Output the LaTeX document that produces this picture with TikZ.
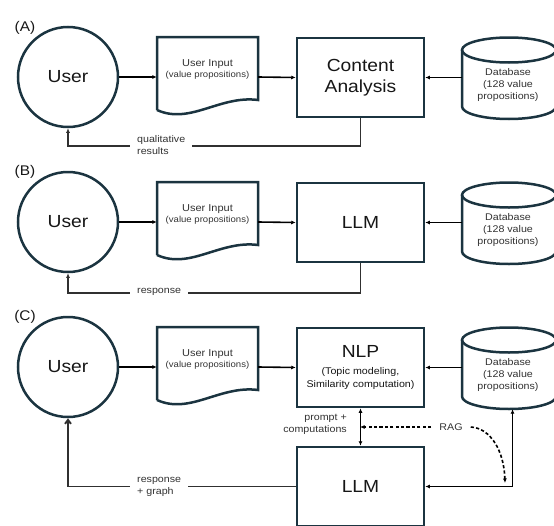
\documentclass[tikz,border=0pt]{standalone}
\usepackage{fontspec}
\setmainfont{Liberation Sans}[FakeStretch=1.1]
\usetikzlibrary{arrows.meta}
\definecolor{outl}{HTML}{1B3440}
\definecolor{txt}{HTML}{161616}
\definecolor{sub}{HTML}{333333}
\definecolor{fbc}{HTML}{303030}
\newcommand{\FBig}{\fontsize{17.5}{21}\selectfont}
\newcommand{\FLab}{\fontsize{9.7}{12}\selectfont}
\newcommand{\FIn}{\fontsize{10}{12}\selectfont}
\newcommand{\FVal}{\fontsize{8.7}{11}\selectfont}
\begin{document}
\begin{tikzpicture}[x=1pt,y=-1pt,
  shapeline/.style={draw=outl,line width=2.5pt},
  usernode/.style={circle,shapeline,minimum size=100pt,inner sep=0pt,font=\FBig,text=txt},
  boxnode/.style={rectangle,shapeline,minimum width=127pt,minimum height=79pt,inner sep=0pt,align=center,text=txt,font=\FBig},
  docarea/.style={rectangle,minimum width=101pt,minimum height=80pt,inner sep=0pt},
  dbarea/.style={rectangle,minimum width=94pt,minimum height=82pt,inner sep=0pt},
  conn/.style={draw=black,line width=1.6pt,-{Latex[length=4.5pt,width=4pt]}},
  fback/.style={draw=fbc,line width=1.9pt,-{Latex[length=4.5pt,width=4pt]}},
  labtxt/.style={font=\FLab,text=sub,align=left,fill=white,inner xsep=7pt,inner ysep=1pt},
  panel/.style={font=\fontsize{14}{16}\selectfont,text=txt},
  intxt/.style={align=center,text=sub,inner sep=0pt},
  dbtxt/.style={align=center,text=sub,font=\FLab,inner sep=0pt}
]
\clip (0,0) rectangle (554,525);
\useasboundingbox (0,0) rectangle (554,525);

%%%%%%%%%%%%%%%% Panel A
\node[panel] (pA) at (25,28) {(A)};
\node[usernode] (userA) at (68,77) {User};
\draw[shapeline,line join=miter] (157,110) -- (157,37) -- (258,37) -- (258,100) .. controls (220,95) and (190,125) .. (157,110);
\node[docarea] (docA) at (207.5,77) {};
\node[intxt] (docAt) at (207.5,69) {{\FIn User Input}\\[-1pt]{\FVal (value propositions)}};
\node[boxnode] (boxA) at (360.5,77.5) {Content\\Analysis};
\draw[shapeline,fill=white] (462,50) -- (462,106.5) arc[start angle=180,end angle=0,x radius=47,y radius=12.5] -- (556,50);
\draw[shapeline] (509,50) ellipse[x radius=47,y radius=12.5];
\node[dbarea] (dbA) at (509,78) {};
\node[dbtxt] (dbAt) at (508,85) {Database\\(128 value\\propositions)};
\draw[conn] (userA.east) -- (docA.west);
\draw[conn] (docA.east) -- (boxA.west);
\draw[conn] (dbA.west |- boxA.east) -- (boxA.east);
\draw[fback] (boxA.south) -- ++(0,28) -| (userA.south);
\node[labtxt,anchor=west] (labA) at (130,145) {qualitative\\results};

%%%%%%%%%%%%%%%% Panel B
\node[panel] (pB) at (25,172) {(B)};
\node[usernode] (userB) at (68,222) {User};
\draw[shapeline,line join=miter] (157,255) -- (157,182) -- (258,182) -- (258,245) .. controls (220,240) and (190,270) .. (157,255);
\node[docarea] (docB) at (207.5,222) {};
\node[intxt] (docBt) at (207.5,214) {{\FIn User Input}\\[-1pt]{\FVal (value propositions)}};
\node[boxnode] (boxB) at (360.5,222.5) {LLM};
\draw[shapeline,fill=white] (462,195) -- (462,251.5) arc[start angle=180,end angle=0,x radius=47,y radius=12.5] -- (556,195);
\draw[shapeline] (509,195) ellipse[x radius=47,y radius=12.5];
\node[dbarea] (dbB) at (509,223) {};
\node[dbtxt] (dbBt) at (508,230) {Database\\(128 value\\propositions)};
\draw[conn] (userB.east) -- (docB.west);
\draw[conn] (docB.east) -- (boxB.west);
\draw[conn] (dbB.west |- boxB.east) -- (boxB.east);
\draw[fback] (boxB.south) -- ++(0,29.5) -| (userB.south);
\node[labtxt,anchor=west] (labB) at (130,292) {response};

%%%%%%%%%%%%%%%% Panel C
\node[panel] (pC) at (25,317) {(C)};
\node[usernode] (userC) at (68,367) {User};
\draw[shapeline,line join=miter] (157,400) -- (157,327) -- (258,327) -- (258,390) .. controls (220,385) and (190,415) .. (157,400);
\node[docarea] (docC) at (207.5,367) {};
\node[intxt] (docCt) at (207.5,359) {{\FIn User Input}\\[-1pt]{\FVal (value propositions)}};
\node[boxnode] (nlp) at (360.5,367.5) {NLP\\[-4pt]{\FLab (Topic modeling,}\\[-8pt]{\FLab Similarity computation)}};
\draw[shapeline,fill=white] (462,340) -- (462,396.5) arc[start angle=180,end angle=0,x radius=47,y radius=12.5] -- (556,340);
\draw[shapeline] (509,340) ellipse[x radius=47,y radius=12.5];
\node[dbarea] (dbC) at (509,368) {};
\node[dbtxt] (dbCt) at (508,375) {Database\\(128 value\\propositions)};
\node[boxnode] (llmC) at (360.5,486.5) {LLM};
\draw[conn] (userC.east) -- (docC.west);
\draw[conn] (docC.east) -- (nlp.west);
\draw[conn] (dbC.west |- nlp.east) -- (nlp.east);
\draw[conn,{Latex[length=4.5pt,width=4pt]}-{Latex[length=4.5pt,width=4pt]}] (nlp.south) -- (llmC.north);
\node[font=\FLab,text=sub,align=right,anchor=east,inner sep=0pt] (pc) at (347,424.5) {prompt +\\computations};
\coordinate (ragin) at (360,427);
\coordinate (corner) at (512.5,486.5);
\coordinate (ragend) at (505,483);
\node[font=\FLab,text=sub,inner sep=0pt] (rag) at (451,427) {RAG};
\draw[conn,dashed,dash pattern=on 3.2pt off 2.2pt] ([xshift=-8pt]rag.west) -- (ragin);
\draw[conn,dashed,dash pattern=on 3.2pt off 2.2pt] ([xshift=8pt]rag.east) .. controls (490,428) and (504,450) .. (ragend);
\draw[conn,{Latex[length=4.5pt,width=4pt]}-{Latex[length=4.5pt,width=4pt]}] (llmC.east |- corner) -- (corner) -- (corner |- dbC.south);
\draw[draw=fbc,line width=1.9pt,-{Straight Barb[length=4pt,width=6pt]}] (llmC.west) -- (userC.south |- llmC.west) -- (userC.south);
\node[labtxt,anchor=west] (labC) at (130,486.5) {response\\+ graph};
\end{tikzpicture}
\end{document}
